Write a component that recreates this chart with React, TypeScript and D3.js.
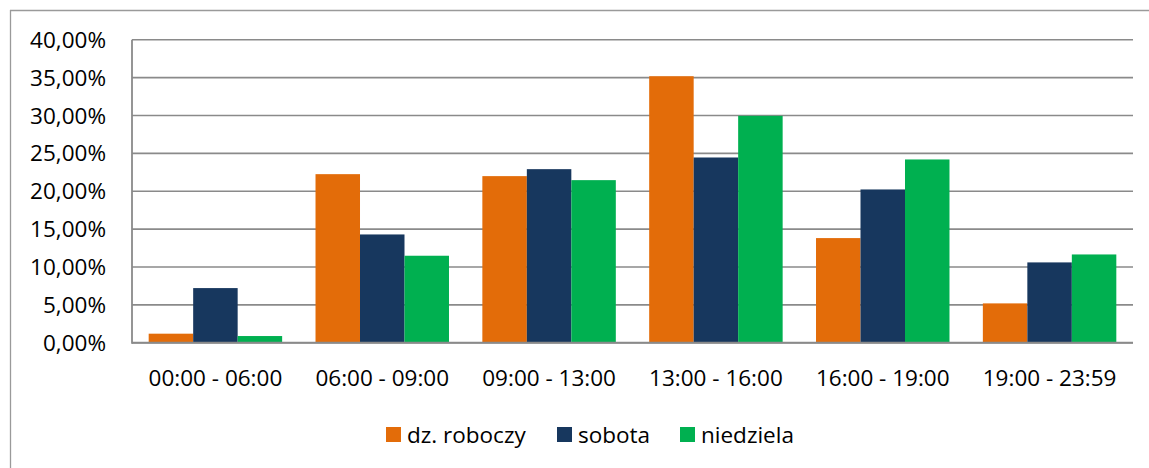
import React from "react";
import * as d3 from "d3";

const categories = ["00:00 - 06:00", "06:00 - 09:00", "09:00 - 13:00", "13:00 - 16:00", "16:00 - 19:00", "19:00 - 23:59"];
const seriesNames = ["dz. roboczy", "sobota", "niedziela"];
const seriesColors = ["#E36C09", "#17375E", "#00B050"];
const dzRoboczy = [1.19, 22.25, 21.99, 35.18, 13.81, 5.19];
const sobota = [7.21, 14.29, 22.91, 24.45, 20.23, 10.6];
const niedziela = [0.88, 11.48, 21.46, 29.95, 24.19, 11.65];
const yTicks = [0, 5, 10, 15, 20, 25, 30, 35, 40];

const W = 1149;
const H = 468;
const FONT = "'Open Sans', 'Noto Sans', sans-serif";

export default function App() {
  const series = [dzRoboczy, sobota, niedziela];
  const left = 132, right = 1133, top = 39.7, bottom = 342.7;
  const x0 = d3.scaleBand<string>().domain(categories).range([left, right]).paddingInner(0.2).paddingOuter(0.1);
  const x1 = d3.scaleBand<string>().domain(seriesNames).range([0, x0.bandwidth()]).padding(0);
  const y = d3.scaleLinear().domain([0, 40]).range([bottom, top]);
  const fmt = (v: number) => v.toFixed(2).replace(".", ",") + "%";

  const legendItems = [
    { name: seriesNames[0], x: 386 },
    { name: seriesNames[1], x: 557 },
    { name: seriesNames[2], x: 680 },
  ];

  return (
    <svg width={W} height={H} style={{ position: "absolute", left: 0, top: 0, display: "block", background: "#fff" }}>
      <rect x={0} y={0} width={W} height={H} fill="#fff" />
      {/* outer frame */}
      <line x1={10.5} x2={10.5} y1={10} y2={H} stroke="#9a9a9a" strokeWidth={1.3} />
      <line x1={10} x2={W} y1={10.5} y2={10.5} stroke="#9a9a9a" strokeWidth={1.3} />
      {/* gridlines */}
      {yTicks.map((t) => (
        <line key={t} x1={left} x2={right} y1={y(t)} y2={y(t)} stroke="#8a8a8a" strokeWidth={1.6} />
      ))}
      {/* y labels */}
      {yTicks.map((t) => (
        <text key={"l" + t} x={106} y={y(t)} dy="0.36em" textAnchor="end" fontFamily={FONT} fontSize={22.5} fill="#000">
          {fmt(t)}
        </text>
      ))}
      {/* bars */}
      {categories.map((c, i) => (
        <g key={c}>
          {series.map((s, j) => (
            <rect
              key={j}
              x={(x0(c) as number) + (x1(seriesNames[j]) as number)}
              y={y(s[i])}
              width={x1.bandwidth()}
              height={bottom - y(s[i])}
              fill={seriesColors[j]}
            />
          ))}
        </g>
      ))}
      {/* axes */}
      <line x1={left} x2={left} y1={top} y2={bottom + 1} stroke="#8a8a8a" strokeWidth={1.8} />
      <line x1={left} x2={right} y1={bottom} y2={bottom} stroke="#8a8a8a" strokeWidth={2} />
      {/* x labels */}
      {categories.map((c) => (
        <text key={"x" + c} x={(x0(c) as number) + x0.bandwidth() / 2} y={378} dy="0.36em" textAnchor="middle" fontFamily={FONT} fontSize={22.5} fill="#000">
          {c}
        </text>
      ))}
      {/* legend */}
      {legendItems.map((it, j) => (
        <g key={it.name}>
          <rect x={it.x} y={427} width={15} height={15} fill={seriesColors[j]} />
          <text x={it.x + 21} y={434.5} dy="0.36em" fontFamily={FONT} fontSize={22.5} fill="#000">
            {it.name}
          </text>
        </g>
      ))}
    </svg>
  );
}
